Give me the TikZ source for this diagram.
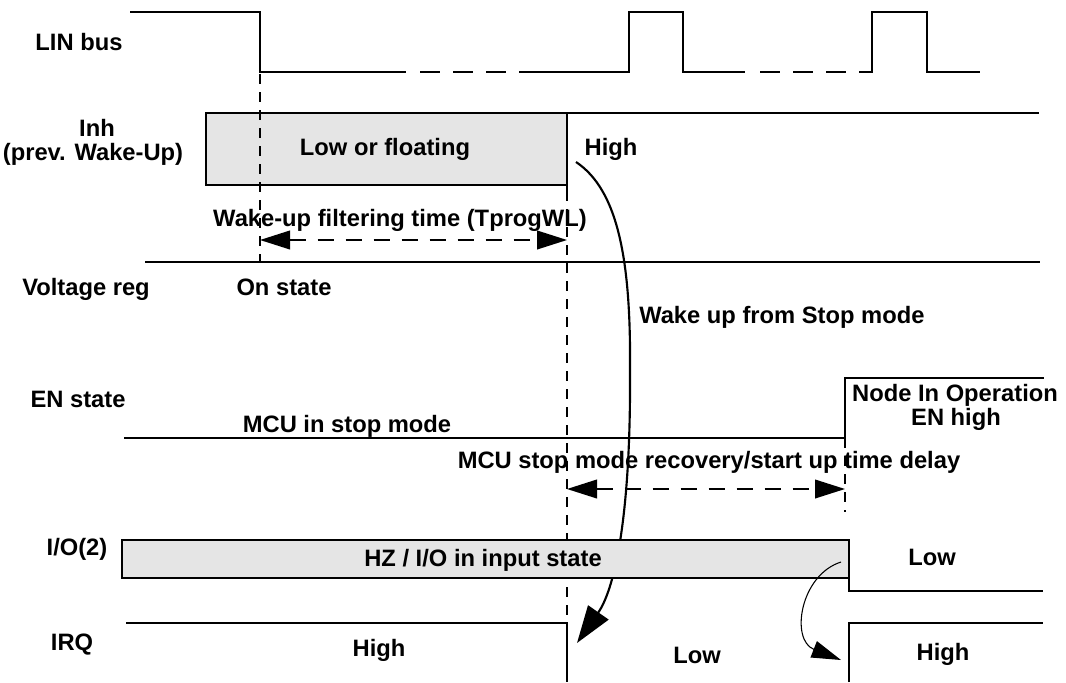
\documentclass[tikz,border=0pt]{standalone}
\usepackage{fontspec}
\setmainfont{Liberation Sans}
\usetikzlibrary{arrows.meta}

\tikzset{
  sig/.style={line width=1.6pt},
  state/.style={sig,fill=black!10},
  cut/.style={line width=1.3pt,dash pattern=on 7.5pt off 6pt},
  busdash/.style={sig,dash pattern=on 15pt off 9.75pt},
  span/.style={line width=1.3pt,dash pattern=on 12pt off 9pt,
    {Triangle[length=22.5pt,width=14pt]}-{Triangle[length=22.5pt,width=14pt]}},
  lbl/.style={font=\fontsize{17.8}{20}\selectfont\bfseries,inner sep=0pt,
    text height=12.7pt,text depth=0pt},
}

\begin{document}
\begin{tikzpicture}[x=0.75pt,y=-0.75pt]
\useasboundingbox (0,0) rectangle (1066,682);

% LIN bus
\draw[sig] (130,12) -- (260,12) -- (260,72) -- (406,72);
\draw[busdash] (420,72) -- (530,72);
\draw[sig] (528,72) -- (629,72) -- (629,12) -- (683,12) -- (683,72) -- (745,72);
\draw[busdash] (760,72) -- (866,72);
\draw[sig] (862,72) -- (872,72) -- (872,12) -- (927,12) -- (927,72) -- (980,72);
\node[lbl] (lin) at (79,42) {LIN bus};

% Inh
\draw[state] (206,113) rectangle (567,185);
\draw[sig] (567,191) -- (567,113) -- (1039,113);
\node[lbl] (inh) at (97,128) {Inh};
\node[lbl] (inhsub) at (93,152) {(prev. Wake-Up)};
\node[lbl] (lowfloat) at (385,147) {Low or floating};
\node[lbl] (inhhigh) at (611,147) {High};

% time marks
\draw[cut] (260,74) -- (260,262);
\draw[cut] (567,191) -- (567,640);
\draw[cut] (845,438) -- (845,512);

% Wake-up filtering
\node[lbl] (filter) at (400,218) {Wake-up filtering time (TprogWL)};
\draw[span] (260,240) -- (567,240);

% Voltage reg
\draw[sig] (145,262) -- (1040,262);
\node[lbl] (vreg) at (86,287) {Voltage reg};
\node[lbl] (onstate) at (284,287) {On state};

% wake up arrow
\coordinate (wakefrom) at (576,162);
\coordinate (waketo) at (577,643);
\draw[sig,-{Triangle[length=28pt,width=18.5pt]}] (wakefrom)
  .. controls (618,190) and (631,260) .. (630,370)
  .. controls (631,520) and (614,590) .. (waketo);
\node[lbl,anchor=west] (wake) at (639,315) {Wake up from Stop mode};

% EN state
\draw[sig] (124,438) -- (845,438) -- (845,378) -- (1044,378);
\node[lbl] (en) at (78,399) {EN state};
\node[lbl] (mcustop) at (347,424) {MCU in stop mode};
\node[lbl] (nodeop) at (955,393) {Node In Operation};
\node[lbl] (enhigh) at (956,417) {EN high};

% recovery delay
\node[lbl] (recovery) at (709,460) {MCU stop mode recovery/start up time delay};
\draw[span] (567,489) -- (845,489);

% I/O(2)
\draw[state] (122,540) rectangle (849,578);
\draw[sig] (849,578) -- (849,591) -- (1043,591);
\node[lbl] (io) at (77,547) {I/O(2)};
\node[lbl] (hz) at (483,558) {HZ / I/O in input state};
\node[lbl] (iolow) at (932,557) {Low};

% IRQ
\draw[sig] (126,623) -- (567,623) -- (567,682);
\draw[sig] (849,682) -- (849,623) -- (1043,623);
\node[lbl] (irq) at (72,642) {IRQ};
\node[lbl] (irqhigh) at (379,648) {High};
\node[lbl] (irqlow) at (697,655) {Low};
\node[lbl] (irqhigh2) at (943,652) {High};

% I/O low -> IRQ high
\coordinate (iofrom) at (841,562);
\coordinate (ioto) at (841,660);
\draw[line width=0.8pt,-{Triangle[length=22pt,width=13pt]}] (iofrom)
  .. controls (800,575) and (790,640) .. (ioto);
\end{tikzpicture}
\end{document}
